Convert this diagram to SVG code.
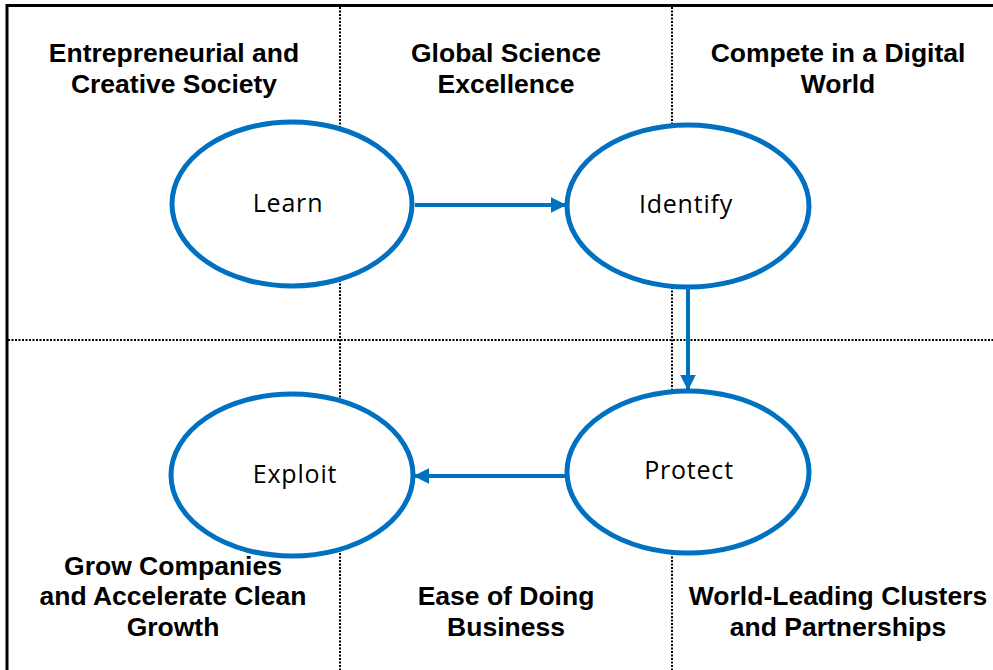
<svg xmlns="http://www.w3.org/2000/svg" width="993" height="670" viewBox="0 0 993 670">
  <style>
    .grid { stroke: #000; stroke-width: 2; stroke-dasharray: 2 1.5; fill: none; }
    .frame { stroke: #000; stroke-width: 3; fill: none; }
    .head { font-family: "Liberation Sans", Arial, sans-serif; font-weight: bold; font-size: 26.5px; fill: #000; text-anchor: middle; }
    .node ellipse { fill: #fff; stroke: #0070C0; stroke-width: 5; }
    .node text { font-family: "Open Sans", "Noto Sans", sans-serif; font-size: 25px; letter-spacing: 0.8px; fill: #000; text-anchor: middle; }
    .link { stroke: #0070C0; stroke-width: 4; fill: none; marker-end: url(#arrow); }
  </style>
  <defs>
    <marker id="arrow" viewBox="0 0 10 10" refX="9" refY="5" markerWidth="4" markerHeight="4" orient="auto" markerUnits="strokeWidth">
      <path d="M0,0 L10,5 L0,10 z" fill="#0070C0"/>
    </marker>
  </defs>
  <rect width="993" height="670" fill="#fff"/>

  <!-- quadrant grid -->
  <g id="grid">
    <line class="grid" x1="8" y1="340" x2="993" y2="340"/>
    <line class="grid" x1="340" y1="7" x2="340" y2="670"/>
    <line class="grid" x1="672" y1="7" x2="672" y2="670"/>
    <line class="frame" x1="6" y1="5.5" x2="993" y2="5.5"/>
    <line class="frame" x1="7" y1="4" x2="7" y2="670"/>
  </g>

  <!-- area headings -->
  <g id="headings">
    <text class="head" x="174" y="62">Entrepreneurial and</text>
    <text class="head" x="174" y="93">Creative Society</text>
    <text class="head" x="506" y="62">Global Science</text>
    <text class="head" x="506" y="93">Excellence</text>
    <text class="head" x="838" y="62">Compete in a Digital</text>
    <text class="head" x="838" y="93">World</text>
    <text class="head" x="173" y="575">Grow Companies</text>
    <text class="head" x="173" y="605">and Accelerate Clean</text>
    <text class="head" x="173" y="636">Growth</text>
    <text class="head" x="506" y="605">Ease of Doing</text>
    <text class="head" x="506" y="636">Business</text>
    <text class="head" x="838" y="605">World-Leading Clusters</text>
    <text class="head" x="838" y="636">and Partnerships</text>
  </g>

  <!-- connectors -->
  <g id="connectors">
    <line class="link" x1="415" y1="205" x2="565" y2="205"/>
    <line class="link" x1="688" y1="287" x2="688" y2="389"/>
    <line class="link" x1="565" y1="476" x2="415" y2="476"/>
  </g>

  <!-- nodes -->
  <g id="learn" class="node">
    <ellipse cx="292" cy="204" rx="120" ry="82"/>
    <text x="288" y="212">Learn</text>
  </g>
  <g id="identify" class="node">
    <ellipse cx="688" cy="206" rx="121" ry="81"/>
    <text x="686" y="213">Identify</text>
  </g>
  <g id="protect" class="node">
    <ellipse cx="688" cy="472" rx="121" ry="81"/>
    <text x="689" y="479">Protect</text>
  </g>
  <g id="exploit" class="node">
    <ellipse cx="292" cy="475" rx="121" ry="81"/>
    <text x="295" y="483">Exploit</text>
  </g>
</svg>
